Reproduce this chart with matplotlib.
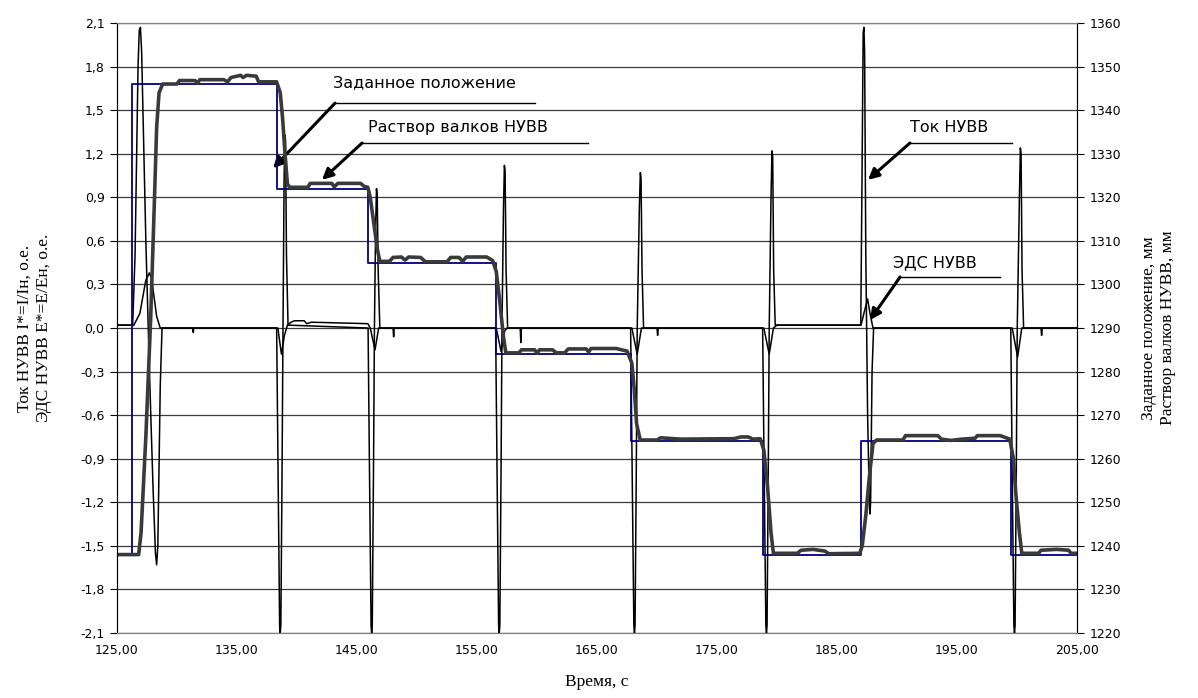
import matplotlib
matplotlib.use('Agg')
import numpy as np
import matplotlib.pyplot as plt
from matplotlib.ticker import FuncFormatter, MultipleLocator

# заданное положение, мм (ступеньки)
set_t = [125.0, 126.25, 138.33, 145.94, 156.56, 167.8, 178.8, 186.97, 199.47, 205.0]
set_mm = [1238, 1346, 1322, 1305, 1284, 1264, 1238, 1264, 1238, 1238]

# раствор валков НУВВ, мм
gap_t = [125.0, 126.8, 127.0, 127.4, 127.8, 128.1, 128.3, 128.5, 128.8,
         130.0, 130.2, 131.5, 131.7, 131.9, 133.9, 134.2, 134.5, 135.3, 135.5,
         135.8, 136.6, 136.8, 138.3, 138.6, 138.8, 139.0, 139.2, 139.4,
         140.9, 141.1, 142.9, 143.1, 143.4, 145.3, 145.6, 145.9, 146.1, 146.4,
         146.7, 146.9, 147.7, 148.0, 148.7, 149.0, 149.3, 150.3, 150.7, 152.5,
         152.8, 153.5, 153.8, 154.1, 155.8, 156.3, 156.6, 156.9, 157.2, 157.4,
         158.5, 158.7, 159.8, 160.0, 160.2, 161.3, 161.6, 162.3, 162.6, 164.1,
         164.3, 164.5, 166.6, 167.5, 167.9, 168.1, 168.3, 168.6, 170.0, 170.3,
         172.0, 176.4, 177.0, 177.6, 178.0, 178.6, 178.9, 179.2, 179.5, 179.7,
         181.7, 182.0, 183.0, 184.0, 184.3, 186.9, 187.1, 187.4, 187.7, 188.0,
         188.3, 190.5, 190.7, 193.4, 193.7, 194.5, 195.4, 196.5, 196.7, 198.6,
         198.9, 199.4, 199.7, 199.9, 200.2, 200.4, 201.8, 202.0, 203.3, 204.3,
         204.5, 205.0]
gap_mm = [1238, 1238, 1243, 1265, 1292, 1318, 1336, 1344, 1346,
          1346, 1346.8, 1346.8, 1346.2, 1347, 1347, 1346.5, 1347.5, 1348, 1347.5,
          1348, 1347.8, 1346.5, 1346.5, 1344, 1338, 1330, 1323, 1322.3,
          1322.3, 1323.2, 1323.2, 1322.4, 1323.2, 1323.2, 1322.5, 1322.3, 1320, 1314,
          1308, 1305.3, 1305.3, 1306.2, 1306.3, 1305.6, 1306.3, 1306.2, 1305.2, 1305.2,
          1306.2, 1306.2, 1305.3, 1306.3, 1306.3, 1305.5, 1303, 1296, 1288, 1284.3,
          1284.3, 1285, 1285, 1284.2, 1285, 1285, 1284.3, 1284.3, 1285.2, 1285.2,
          1284.5, 1285.3, 1285.3, 1284.7, 1282, 1276, 1268, 1264.3, 1264.3, 1264.8,
          1264.5, 1264.6, 1265, 1265, 1264.5, 1264.6, 1262, 1254, 1243, 1238.3,
          1238.3, 1239, 1239.2, 1238.8, 1238.2, 1238.3, 1240, 1247, 1256, 1263.5,
          1264.3, 1264.3, 1265.3, 1265.3, 1264.5, 1264.2, 1264.5, 1264.7, 1265.3, 1265.3,
          1265, 1264.5, 1260, 1252, 1243, 1238.3, 1238.3, 1239, 1239.2, 1239,
          1238.3, 1238.3]

# ток НУВВ, о.е.
cur_t = [125.0, 126.3, 126.5, 126.75, 126.85, 126.95, 127.05, 127.4, 127.7, 128.0,
         128.2, 128.3, 128.4, 128.6, 128.75, 131.3, 131.35, 131.4,
         138.3, 138.42, 138.55, 138.6, 138.65, 138.75, 138.83, 138.92, 138.98, 139.04, 139.12, 139.25,
         145.92, 146.04, 146.17, 146.22, 146.27, 146.37, 146.45, 146.55, 146.62, 146.68, 146.76, 146.9,
         156.55, 156.67, 156.8, 156.85, 156.9, 157.0, 157.08, 157.2, 157.28, 157.34, 157.42, 157.55,
         167.8, 167.93, 168.07, 168.12, 168.17, 168.27, 168.35, 168.52, 168.61, 168.67, 168.75, 168.88,
         178.8, 178.93, 179.07, 179.12, 179.17, 179.27, 179.35, 179.5, 179.58, 179.64, 179.72, 179.85,
         186.98, 187.08, 187.18, 187.24, 187.3, 187.4, 187.55, 187.7, 187.75, 187.8, 187.92, 188.05,
         199.48, 199.6, 199.74, 199.79, 199.84, 199.94, 200.02, 200.2, 200.28, 200.34, 200.42, 200.55,
         205.0]
cur_pu = [0.02, 0.02, 0.5, 1.8, 2.05, 2.07, 1.9, 0.6, -0.3, -1.1,
          -1.55, -1.63, -1.5, -0.4, 0.0, 0.0, -0.03, 0.0,
          0.0, -1.0, -2.05, -2.1, -2.05, -1.0, 0.0, 1.0, 1.33, 1.3, 0.5, 0.02,
          0.0, -1.0, -2.05, -2.1, -2.05, -1.0, 0.0, 0.7, 0.96, 0.92, 0.4, 0.0,
          0.0, -1.0, -2.05, -2.1, -2.05, -1.0, 0.0, 0.8, 1.12, 1.08, 0.4, 0.0,
          0.0, -1.0, -2.05, -2.1, -2.05, -1.0, 0.0, 0.8, 1.07, 1.03, 0.4, 0.0,
          0.0, -1.0, -2.05, -2.1, -2.05, -1.0, 0.0, 0.9, 1.22, 1.18, 0.4, 0.02,
          0.02, 1.0, 2.03, 2.07, 1.9, 0.5, -0.6, -1.22, -1.28, -1.2, -0.3, 0.0,
          0.0, -1.0, -2.05, -2.1, -2.05, -1.0, 0.0, 0.9, 1.24, 1.2, 0.4, 0.0,
          0.0]

# ЭДС НУВВ, о.е.
emf_t = [125.0, 126.4, 126.9, 127.4, 127.7, 127.9, 128.3, 128.6,
         138.4, 138.7, 138.95, 139.2, 139.5, 139.8, 140.6, 140.8, 141.2, 145.9,
         146.1, 146.5, 146.8, 148.0, 148.05, 148.1,
         156.6, 157.0, 157.3, 157.5, 158.6, 158.65, 158.7,
         167.9, 168.35, 168.7, 170.0, 170.05, 170.1,
         178.9, 179.35, 179.7, 180.0, 187.0, 187.3, 187.55, 187.75, 188.0,
         199.6, 200.05, 200.4, 202.0, 202.05, 202.1, 205.0]
emf_pu = [0.02, 0.02, 0.1, 0.33, 0.38, 0.33, 0.08, 0.0,
          0.0, -0.18, -0.05, 0.02, 0.04, 0.05, 0.05, 0.03, 0.04, 0.03,
          0.0, -0.15, 0.0, 0.0, -0.06, 0.0,
          0.0, -0.16, -0.02, 0.0, 0.0, -0.1, 0.0,
          0.0, -0.18, 0.0, 0.0, -0.05, 0.0,
          0.0, -0.18, 0.0, 0.02, 0.02, 0.12, 0.2, 0.1, 0.0,
          0.0, -0.2, 0.0, 0.0, -0.05, 0.0, 0.0]

x_ticks = [125, 135, 145, 155, 165, 175, 185, 195, 205]

fig = plt.figure(figsize=(11.98, 6.98), dpi=100)
ax = fig.add_axes([0.0977, 0.0931, 0.8013, 0.8739])
ax2 = ax.twinx()

ax.plot(cur_t, cur_pu, color='black', lw=1.1, zorder=3)
ax.plot(emf_t, emf_pu, color='black', lw=1.1, zorder=3)
ax2.plot(set_t, set_mm, color='#000080', lw=1.3, drawstyle='steps-post')
ax2.plot(gap_t, gap_mm, color='#3a3a3a', lw=2.6, solid_joinstyle='round')

ax.set_xlim(125, 205)
ax.set_ylim(-2.1, 2.1)
ax2.set_ylim(1220, 1360)
ax.set_xticks(x_ticks)
ax.yaxis.set_major_locator(MultipleLocator(0.3))
ax2.yaxis.set_major_locator(MultipleLocator(10))

comma = lambda fmt: FuncFormatter(lambda v, p: fmt.format(v).replace('.', ','))
ax.xaxis.set_major_formatter(comma('{:.2f}'))
ax.yaxis.set_major_formatter(comma('{:.1f}'))
ax2.yaxis.set_major_formatter(comma('{:.0f}'))

ax.grid(axis='y', color='#3c3c3c', lw=0.9)
ax.tick_params(axis='x', length=0, pad=8, labelsize=9)
ax.tick_params(axis='y', direction='out', length=5, labelsize=9, pad=4)
ax2.tick_params(axis='y', direction='out', length=5, labelsize=9, pad=4)

for a in (ax, ax2):
    a.spines['top'].set_color('#808080')
    a.spines['bottom'].set_color('#808080')
    a.spines['left'].set_color('black')
    a.spines['right'].set_color('black')

ax.set_ylabel('Ток НУВВ I*=I/Iн, о.е.\nЭДС НУВВ E*=E/Eн, о.е.',
              family='Liberation Serif', fontsize=12.5, labelpad=20, linespacing=1.3)
ax2.set_ylabel('Заданное положение, мм\nРаствор валков НУВВ, мм',
               family='Liberation Serif', fontsize=12.5, labelpad=14, rotation=90,
               linespacing=1.3)
ax.set_xlabel('Время, с', family='Liberation Serif', fontsize=12.5, labelpad=12)

# подписи со стрелками
notes = [
    ('Заданное положение', 143.0, 1.69, 143.17, 159.83, 1.549, 138.0, 1.10),
    ('Раствор валков НУВВ', 145.9, 1.38, 145.42, 164.25, 1.274, 142.08, 1.02),
    ('Ток НУВВ', 191.1, 1.38, 191.08, 199.58, 1.274, 187.58, 1.02),
    ('ЭДС НУВВ', 189.7, 0.45, 190.25, 198.58, 0.351, 187.75, 0.055),
]
for txt, tx, ty, u0, u1, uy, ax_, ay_ in notes:
    ax.text(tx, ty, txt, fontsize=11.5, va='center', ha='left', zorder=6)
    ax.plot([u0, u1], [uy, uy], color='black', lw=1.0, zorder=6)
    ax.annotate('', xy=(ax_, ay_), xytext=(u0, uy), zorder=6,
                arrowprops=dict(arrowstyle='-|>', color='black', lw=2.2,
                                mutation_scale=16, shrinkA=0, shrinkB=0))

fig.savefig('out.png', dpi=100)
